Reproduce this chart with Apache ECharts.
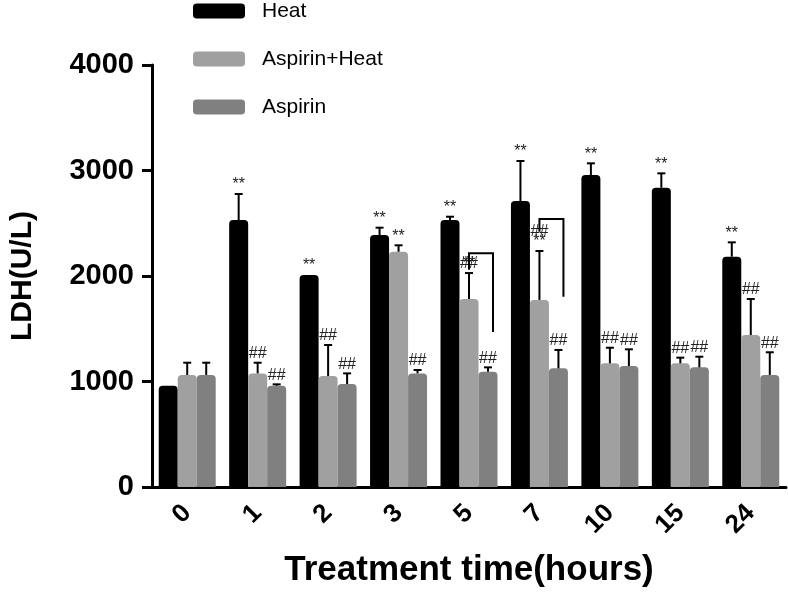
<!DOCTYPE html>
<html>
<head>
<meta charset="utf-8">
<script src="https://cdn.jsdelivr.net/npm/echarts@6/dist/echarts.min.js"></script>
<style>
  html, body { margin: 0; padding: 0; background: #fff; }
  #chart { width: 788px; height: 593px; }
</style>
</head>
<body>
<div id="chart"></div>
<script>
// data
const categories = ['0', '1', '2', '3', '5', '7', '10', '15', '24'];

const heat = [960, 2531, 2009, 2389, 2531, 2711, 2957, 2837, 2183];
const heatErrTop = [960, 2777, 2009, 2458, 2562, 3090, 3068, 2973, 2319];
const heatMarks = ['', '**', '**', '**', '**', '**', '**', '**', '**'];

const aspHeat = [1062, 1077, 1052, 2230, 1782, 1773, 1172, 1172, 1441];
const aspHeatErrTop = [1178, 1178, 1346, 2291, 2028, 2237, 1320, 1226, 1782];
const aspHeatMarks = ['', '##', '##', '**', '**/##', '##\n**', '##', '##', '##'];

const asp = [1062, 960, 976, 1077, 1093, 1125, 1147, 1134, 1062];
const aspErrTop = [1178, 973, 1077, 1109, 1134, 1299, 1305, 1235, 1277];
const aspMarks = ['', '##', '##', '##', '##', '##', '##', '##', '##'];

// comparison brackets (Aspirin+Heat vs Aspirin)
const bracketCats = [4, 5];
const bracketTop = [2215, 2540];
const bracketLeftEnd = [2060, 2420];
const bracketRightEnd = [1469, 1804];

const BAR_W = 19;
const FONT = '"Liberation Sans", Arial, sans-serif';

const chart = echarts.init(document.getElementById('chart'));

function errRender(offset, marks) {
  return function (params, api) {
    const i = api.value(0);
    const base = api.coord([i, api.value(1)]);
    const top = api.coord([i, api.value(2)]);
    const x = base[0] + offset * BAR_W;
    const children = [];
    if (top[1] < base[1] - 0.5) {
      children.push({ type: 'line', shape: { x1: x, y1: base[1], x2: x, y2: top[1] }, style: { stroke: '#000', lineWidth: 2 } });
      children.push({ type: 'line', shape: { x1: x - 4, y1: top[1], x2: x + 4, y2: top[1] }, style: { stroke: '#000', lineWidth: 2 } });
    }
    const mark = marks[params.dataIndex];
    if (mark) {
      mark.split('\n').reverse().forEach(function (ln, k) {
        ln.split('/').forEach(function (t) {
          children.push({
            type: 'text',
            style: {
              text: t, x: x, y: top[1] - 1 - k * 10,
              align: 'center', verticalAlign: 'bottom',
              fill: '#222', font: '16px ' + FONT
            }
          });
        });
      });
    }
    return { type: 'group', children: children };
  };
}

function bracketRender(params, api) {
  const i = api.value(0);
  const t = api.coord([i, api.value(1)]);
  const l = api.coord([i, api.value(2)]);
  const r = api.coord([i, api.value(3)]);
  const x1 = t[0];
  const x2 = t[0] + 24;
  return {
    type: 'polyline',
    shape: { points: [[x1, l[1]], [x1, t[1]], [x2, t[1]], [x2, r[1]]] },
    style: { stroke: '#000', lineWidth: 2, fill: null }
  };
}

function errData(vals, tops) {
  return categories.map(function (c, i) { return [i, vals[i], tops[i]]; });
}

const option = {
  animation: false,
  textStyle: { fontFamily: FONT },
  legend: {
    orient: 'vertical',
    left: 188,
    top: -6,
    itemWidth: 52,
    itemHeight: 15,
    itemGap: 24,
    icon: 'roundRect',
    selectedMode: false,
    textStyle: { fontSize: 21, color: '#000', lineHeight: 24, padding: [0, 0, 0, 12], fontFamily: FONT },
    data: ['Heat', 'Aspirin+Heat', 'Aspirin']
  },
  grid: { left: 151, right: 2, top: 65, bottom: 106, containLabel: false },
  xAxis: {
    type: 'category',
    data: categories,
    name: 'Treatment time(hours)',
    nameLocation: 'middle',
    nameGap: 66,
    nameTextStyle: { fontSize: 35, fontWeight: 'bold', color: '#000', fontFamily: FONT },
    axisLine: { lineStyle: { color: '#000', width: 3 } },
    axisTick: { alignWithLabel: true, length: 9, lineStyle: { color: '#000', width: 3 } },
    axisLabel: { rotate: 45, margin: 22, fontSize: 26, fontWeight: 'bold', color: '#000', fontFamily: FONT }
  },
  yAxis: {
    type: 'value',
    min: 0,
    max: 4000,
    interval: 1000,
    name: 'LDH(U/L)',
    nameLocation: 'middle',
    nameGap: 114,
    nameTextStyle: { fontSize: 30, fontWeight: 'bold', color: '#000', fontFamily: FONT },
    splitLine: { show: false },
    axisLine: { show: true, lineStyle: { color: '#000', width: 3 } },
    axisTick: { show: true, length: 10, lineStyle: { color: '#000', width: 3 } },
    axisLabel: {
      margin: 18, fontSize: 29, fontWeight: 'bold', color: '#000', fontFamily: FONT,
      formatter: function (v) { return String(v); }
    }
  },
  series: [
    {
      name: 'Heat', type: 'bar', data: heat, barWidth: BAR_W, barGap: '0%',
      itemStyle: { color: '#000000', borderRadius: [4, 4, 0, 0] }
    },
    {
      name: 'Aspirin+Heat', type: 'bar', data: aspHeat, barWidth: BAR_W, barGap: '0%',
      itemStyle: { color: '#a0a0a0', borderRadius: [4, 4, 0, 0] }
    },
    {
      name: 'Aspirin', type: 'bar', data: asp, barWidth: BAR_W, barGap: '0%',
      itemStyle: { color: '#808080', borderRadius: [4, 4, 0, 0] }
    },
    {
      type: 'custom', z: 5, renderItem: errRender(-1, heatMarks),
      data: errData(heat, heatErrTop), encode: { x: 0, y: [1, 2] }
    },
    {
      type: 'custom', z: 5, renderItem: errRender(0, aspHeatMarks),
      data: errData(aspHeat, aspHeatErrTop), encode: { x: 0, y: [1, 2] }
    },
    {
      type: 'custom', z: 5, renderItem: errRender(1, aspMarks),
      data: errData(asp, aspErrTop), encode: { x: 0, y: [1, 2] }
    },
    {
      type: 'custom', z: 5, renderItem: bracketRender,
      data: bracketCats.map(function (c, k) { return [c, bracketTop[k], bracketLeftEnd[k], bracketRightEnd[k]]; }),
      encode: { x: 0, y: [1, 2, 3] }
    }
  ]
};

chart.setOption(option);
</script>
</body>
</html>
